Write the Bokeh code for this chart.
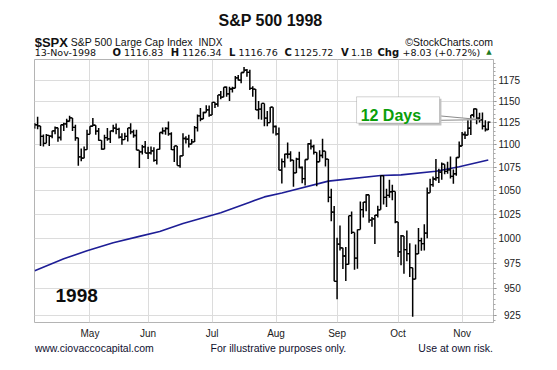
from bokeh.plotting import figure
from bokeh.layouts import column
from bokeh.models import Range1d, FixedTicker, Label, BoxAnnotation, ColumnDataSource
from bokeh.embed import file_html
from bokeh.resources import INLINE

# ---------------- data ----------------
dates = (
    ["1998-04-%s" % d for d in ["03","06","07","08","09","13","14","15","16","17","20","21","22","23","24","27","28","29","30"]]
    + ["1998-05-%s" % d for d in ["01","04","05","06","07","08","11","12","13","14","15","18","19","20","21","22","26","27","28","29"]]
    + ["1998-06-%s" % d for d in ["01","02","03","04","05","08","09","10","11","12","15","16","17","18","19","22","23","24","25","26","29","30"]]
    + ["1998-07-%s" % d for d in ["01","02","06","07","08","09","10","13","14","15","16","17","20","21","22","23","24","27","28","29","30","31"]]
    + ["1998-08-%s" % d for d in ["03","04","05","06","07","10","11","12","13","14","17","18","19","20","21","24","25","26","27","28","31"]]
    + ["1998-09-%s" % d for d in ["01","02","03","04","08","09","10","11","14","15","16","17","18","21","22","23","24","25","28","29","30"]]
    + ["1998-10-%s" % d for d in ["01","02","05","06","07","08","09","12","13","14","15","16","19","20","21","22","23","26","27","28","29","30"]]
    + ["1998-11-%s" % d for d in ["02","03","04","05","06","09","10","11","12","13"]]
)

opens = [
    1120.0, 1122.7, 1121.4, 1109.6, 1101.7, 1110.7, 1109.7, 1115.8, 1119.3, 1108.2, 1122.7, 1123.7, 1126.7, 1130.5, 1119.6, 1107.9, 1086.5, 1085.1, 1094.6,
    1111.8, 1121.0, 1122.1, 1115.5, 1104.9, 1095.1, 1108.1, 1106.6, 1115.8, 1118.9, 1117.4, 1108.7, 1105.8, 1109.5, 1119.1, 1114.6, 1110.5, 1094.0, 1092.2, 1097.6,
    1090.8, 1091.0, 1093.2, 1082.7, 1094.8, 1113.9, 1115.7, 1118.4, 1112.3, 1094.6, 1098.8, 1077.0, 1087.6, 1107.1, 1106.4, 1100.7, 1103.2, 1119.5, 1132.9, 1129.3, 1136.8, 1139.8,
    1133.8, 1148.6, 1146.4, 1157.3, 1154.7, 1166.4, 1158.6, 1164.3, 1165.2, 1177.6, 1174.8, 1184.0, 1186.8, 1184.1, 1165.1, 1164.1, 1139.8, 1140.8, 1147.3, 1130.2, 1125.2, 1143.0,
    1120.7, 1112.4, 1072.1, 1081.4, 1089.6, 1089.5, 1083.1, 1069.0, 1084.2, 1074.9, 1062.8, 1083.7, 1101.2, 1098.1, 1091.6, 1081.2, 1088.1, 1092.9, 1084.2, 1042.6, 1027.1,
    957.3, 994.3, 990.5, 982.3, 973.9, 1023.5, 1006.2, 980.2, 1009.1, 1029.7, 1037.7, 1045.5, 1018.9, 1020.1, 1023.9, 1029.6, 1066.1, 1042.7, 1044.8, 1048.7, 1049.0,
    1017.0, 986.4, 1002.6, 988.6, 984.6, 970.7, 959.4, 984.4, 997.7, 994.8, 1005.5, 1047.5, 1056.4, 1062.4, 1063.9, 1069.9, 1078.5, 1070.7, 1072.3, 1065.3, 1068.1, 1085.9,
    1098.7, 1111.6, 1110.8, 1118.7, 1133.9, 1141.0, 1130.2, 1128.3, 1121.0, 1116.8,
]
highs = [
    1124.7, 1131.9, 1121.4, 1111.5, 1112.2, 1110.9, 1115.8, 1120.7, 1119.3, 1122.7, 1124.9, 1129.6, 1132.9, 1130.5, 1122.8, 1107.9, 1095.9, 1098.0, 1116.9,
    1121.0, 1130.5, 1122.1, 1119.1, 1105.1, 1111.4, 1119.1, 1116.0, 1122.6, 1124.0, 1119.2, 1113.0, 1113.6, 1119.1, 1124.3, 1116.9, 1116.9, 1094.0, 1099.7, 1104.2,
    1097.9, 1098.0, 1097.4, 1095.0, 1113.9, 1119.7, 1119.9, 1126.3, 1114.2, 1098.8, 1098.8, 1088.0, 1112.9, 1109.6, 1111.2, 1106.4, 1121.2, 1134.4, 1142.0, 1137.6, 1145.2, 1145.0,
    1148.6, 1148.6, 1157.3, 1161.9, 1166.4, 1167.4, 1167.0, 1166.9, 1179.7, 1181.1, 1184.0, 1190.6, 1188.4, 1187.4, 1167.7, 1164.3, 1150.3, 1147.3, 1147.3, 1138.6, 1143.1, 1143.0,
    1121.7, 1119.7, 1084.8, 1090.0, 1102.5, 1092.8, 1083.1, 1085.5, 1092.4, 1075.9, 1083.7, 1101.7, 1106.0, 1100.0, 1091.6, 1093.8, 1106.7, 1092.9, 1084.2, 1051.8, 1033.5,
    1000.7, 1013.2, 990.5, 991.4, 1023.5, 1027.7, 1006.2, 1009.1, 1038.4, 1037.7, 1046.0, 1045.5, 1022.0, 1024.1, 1033.9, 1066.1, 1066.1, 1051.9, 1061.5, 1056.3, 1049.0,
    1017.0, 1003.5, 1002.6, 1008.1, 995.2, 970.7, 993.8, 1010.7, 1000.8, 1014.6, 1053.1, 1062.6, 1065.2, 1084.1, 1073.4, 1080.5, 1078.5, 1081.2, 1087.1, 1072.8, 1086.1, 1103.8,
    1114.4, 1115.0, 1127.8, 1133.9, 1141.3, 1141.0, 1136.5, 1136.9, 1127.8, 1126.3,
]
lows = [
    1118.2, 1117.5, 1098.7, 1098.0, 1101.7, 1098.8, 1107.3, 1111.8, 1103.4, 1104.9, 1115.6, 1119.4, 1126.3, 1115.5, 1104.6, 1076.7, 1081.8, 1085.1, 1094.6,
    1111.8, 1121.0, 1111.2, 1104.6, 1094.4, 1095.1, 1104.6, 1101.9, 1114.3, 1111.8, 1107.1, 1100.2, 1105.8, 1103.7, 1111.9, 1107.8, 1094.0, 1074.4, 1089.1, 1090.8,
    1084.2, 1089.1, 1081.1, 1078.1, 1094.8, 1112.0, 1111.3, 1110.3, 1094.3, 1080.8, 1077.0, 1074.7, 1087.6, 1101.5, 1097.1, 1100.7, 1103.2, 1115.1, 1126.7, 1129.3, 1136.8, 1132.0,
    1133.8, 1142.1, 1143.6, 1152.2, 1154.7, 1155.2, 1150.2, 1160.1, 1165.2, 1174.4, 1171.0, 1184.0, 1178.8, 1163.1, 1155.2, 1139.8, 1129.1, 1128.4, 1121.0, 1121.0, 1125.2, 1112.8,
    1110.4, 1071.8, 1057.4, 1074.9, 1084.7, 1081.1, 1054.0, 1069.0, 1074.0, 1057.8, 1055.5, 1083.7, 1094.9, 1089.3, 1054.6, 1081.2, 1085.1, 1075.9, 1037.6, 1017.7, 957.3,
    940.0, 987.9, 969.3, 957.7, 973.9, 1004.6, 968.6, 969.7, 1009.1, 1021.6, 1028.0, 1016.0, 1011.9, 994.3, 1021.6, 1029.6, 1035.2, 1032.5, 1042.2, 1039.6, 1015.7,
    981.3, 973.0, 964.7, 977.1, 961.4, 923.3, 959.4, 984.4, 987.6, 987.8, 1000.1, 1047.5, 1054.0, 1060.6, 1058.1, 1061.7, 1067.4, 1068.2, 1063.0, 1057.3, 1065.9, 1085.9,
    1098.7, 1106.4, 1110.8, 1111.1, 1131.1, 1123.2, 1125.2, 1117.4, 1114.9, 1116.8,
]
closes = [
    1122.7, 1121.4, 1109.6, 1101.7, 1110.7, 1109.7, 1115.8, 1119.3, 1108.2, 1122.7, 1123.7, 1126.7, 1130.5, 1119.6, 1107.9, 1086.5, 1085.1, 1094.6, 1111.8,
    1121.0, 1122.1, 1115.5, 1104.9, 1095.1, 1108.1, 1106.6, 1115.8, 1118.9, 1117.4, 1108.7, 1105.8, 1109.5, 1119.1, 1114.6, 1110.5, 1094.0, 1092.2, 1097.6, 1090.8,
    1091.0, 1093.2, 1082.7, 1094.8, 1113.9, 1115.7, 1118.4, 1112.3, 1094.6, 1098.8, 1077.0, 1087.6, 1107.1, 1106.4, 1100.7, 1103.2, 1119.5, 1132.9, 1129.3, 1136.8, 1139.8, 1133.8,
    1148.6, 1146.4, 1157.3, 1154.7, 1166.4, 1158.6, 1164.3, 1165.2, 1177.6, 1174.8, 1184.0, 1186.8, 1184.1, 1165.1, 1164.1, 1139.8, 1140.8, 1147.3, 1130.2, 1125.2, 1143.0, 1120.7,
    1112.4, 1072.1, 1081.4, 1089.6, 1089.5, 1083.1, 1069.0, 1084.2, 1074.9, 1062.8, 1083.7, 1101.2, 1098.1, 1091.6, 1081.2, 1088.1, 1092.9, 1084.2, 1042.6, 1027.1, 957.3,
    994.3, 990.5, 982.3, 973.9, 1023.5, 1006.2, 980.2, 1009.1, 1029.7, 1037.7, 1045.5, 1018.9, 1020.1, 1023.9, 1029.6, 1066.1, 1042.7, 1044.8, 1048.7, 1049.0, 1017.0,
    986.4, 1002.6, 988.6, 984.6, 970.7, 959.4, 984.4, 997.7, 994.8, 1005.5, 1047.5, 1056.4, 1062.4, 1063.9, 1069.9, 1078.5, 1070.7, 1072.3, 1065.3, 1068.1, 1085.9, 1098.7,
    1111.6, 1110.8, 1118.7, 1133.9, 1141.0, 1130.2, 1128.3, 1121.0, 1117.7, 1125.7,
]

# 200-day moving average, read at bar positions
ma_idx = [0, 10, 18, 27, 36, 43, 51, 64, 74, 79, 85, 101, 119, 126, 138, 146, 156]
ma_val = [967.7, 979.5, 987.5, 995.6, 1002.1, 1007.0, 1015.3, 1026.4, 1037.6, 1043.2, 1047.3,
          1060.1, 1066.1, 1066.9, 1070.8, 1075.7, 1083.1]

month_names = ["May", "Jun", "Jul", "Aug", "Sep", "Oct", "Nov"]
month_numbers = [5, 6, 7, 8, 9, 10, 11]
y_ticks = [925, 950, 975, 1000, 1025, 1050, 1075, 1100, 1125, 1150, 1175]
y_tick_labels = ["\u2007925", "\u2007950", "\u2007975", "1000", "1025", "1050", "1075", "1100", "1125", "1150", "1175"]
y_minor = list(range(920, 1200, 5))

title_text = "S&P 500 1998"
symbol_text = "$SPX"
name_text = "S&P 500 Large Cap Index"
exch_text = "INDX"
brand_text = "\u00a9StockCharts.com"
date_text = "13-Nov-1998"
quote_parts = [("O", True, 112.0), ("1116.83", False, 123.5), ("H", True, 170.3), ("1126.34", False, 181.7),
               ("L", True, 228.5), ("1116.76", False, 237.9), ("C", True, 284.0), ("1125.72", False, 293.5),
               ("V", True, 340.5), ("1.1B", False, 350.5), ("Chg", True, 377.0), ("+8.03 (+0.72%)", False, 402.0)]
year_text = "1998"
callout_text = "12 Days"
footer = [("www.ciovaccocapital.com", 34.2, "left"), ("For illustrative purposes only.", 210.0, "left"),
          ("Use at own risk.", 492.5, "right")]

# ---------------- sizes ----------------
W = 541
HEAD_H = 58
MAIN_H = 283
FOOT_H = 13
BORDER_L, BORDER_R = 34, 48
FRAME_L, FRAME_R = BORDER_L, W - BORDER_R   # frames of stacked figures line up
FONT = "Liberation Sans"


def text_panel(height):
    f = figure(width=W, height=height, x_range=Range1d(FRAME_L, FRAME_R), y_range=Range1d(height, 0),
               x_axis_location=None, y_axis_location=None, output_backend="svg",
               toolbar_location=None, min_border_left=BORDER_L, min_border_right=BORDER_R,
               min_border_top=0, min_border_bottom=0)
    f.outline_line_color = None
    f.grid.visible = False
    f.background_fill_color = "white"
    f.border_fill_color = "white"
    return f


def put(fig, text, x, y, size, bold=False, color="#111111", align="left", font=FONT,
        baseline="middle", bg=None):
    lab = Label(x=x, y=y, text=text, text_font=font, text_font_size="%gpx" % size,
                text_font_style="bold" if bold else "normal", text_color=color,
                text_align=align, text_baseline=baseline)
    if bg is not None:
        lab.background_fill_color = bg
    fig.add_layout(lab)


# ---------------- header ----------------
head = text_panel(HEAD_H)
put(head, title_text, 270, 19.5, 16, bold=True, align="center")
put(head, symbol_text, 34.2, 41.5, 13, bold=True)
put(head, name_text, 70.3, 41.5, 10.5)
put(head, exch_text, 198, 41.5, 10)
put(head, brand_text, 492.5, 41.5, 10.5, align="right")
put(head, date_text, 34.2, 51.5, 9.5, font="DejaVu Sans")
for txt, bold, px in quote_parts:
    put(head, txt, px, 51.5, 10 if bold else 9.5, bold=bold, font="DejaVu Sans")
put(head, "\u25b2", 488.5, 51.5, 7, color="#1e7a1e", align="center", font="DejaVu Sans")

# ---------------- main chart ----------------
p = figure(width=W, height=MAIN_H, x_range=Range1d(-0.07, 157.8), y_range=Range1d(918.0, 1199.8),
           y_axis_type="log", y_axis_location="right", output_backend="svg", toolbar_location=None,
           min_border_left=BORDER_L, min_border_right=BORDER_R, min_border_top=1, min_border_bottom=17)
p.outline_line_color = "#b4b4b4"
p.outline_line_width = 1
p.background_fill_color = "white"
p.border_fill_color = "white"

idx = list(range(len(dates)))
month_first = [next(i for i, d in enumerate(dates) if int(d[5:7]) == m) for m in month_numbers]

xa = p.xaxis[0]
xa.ticker = FixedTicker(ticks=month_first, minor_ticks=[])
xa.major_label_overrides = {i: n for i, n in zip(month_first, month_names)}
xa.axis_line_color = None
xa.major_tick_line_color = None
xa.minor_tick_line_color = None
xa.major_tick_out = 0
xa.minor_tick_out = 0
xa.major_tick_in = 0
xa.minor_tick_in = 0
xa.major_label_standoff = 5
xa.major_label_text_font = FONT
xa.major_label_text_font_size = "10px"
xa.major_label_text_color = "#1a1a1a"

ya = p.yaxis[0]
ya.ticker = FixedTicker(ticks=y_ticks, minor_ticks=y_minor)
ya.major_label_overrides = {t: s for t, s in zip(y_ticks, y_tick_labels)}
ya.axis_line_color = "#b4b4b4"
ya.major_tick_out = 3
ya.major_tick_in = 0
ya.major_tick_line_color = "#808080"
ya.minor_tick_out = 2
ya.minor_tick_in = 0
ya.minor_tick_line_color = "#a8a8a8"
ya.major_label_standoff = 2
ya.major_label_text_font = FONT
ya.major_label_text_font_size = "10px"
ya.major_label_text_color = "#1a1a1a"

p.xgrid.grid_line_color = "#dcdcdc"
p.ygrid.grid_line_color = "#dcdcdc"

# moving average
p.line(ma_idx, ma_val, line_color="#1e1e96", line_width=1.6)

# OHLC bars
src = ColumnDataSource(dict(x=idx, xl=[i - 0.75 for i in idx], xr=[i + 0.75 for i in idx],
                            o=opens, h=highs, l=lows, c=closes))
p.segment(x0="x", y0="l", x1="x", y1="h", source=src, line_color="black", line_width=1.5)
p.segment(x0="xl", y0="o", x1="x", y1="o", source=src, line_color="black", line_width=1.3)
p.segment(x0="x", y0="c", x1="xr", y1="c", source=src, line_color="black", line_width=1.3)

# callout "12 Days"
p.add_layout(BoxAnnotation(left=111.4, right=139.9, top=1152.9, bottom=1121.9,
                           fill_color="#c4c4c4", fill_alpha=1.0, line_color=None))
p.add_layout(BoxAnnotation(left=110.7, right=139.25, top=1155.1, bottom=1124.6,
                           fill_color="white", fill_alpha=1.0, line_color="#6e6e6e", line_width=1))
p.patch([139.25, 153.4, 139.25], [1132.9, 1128.5, 1127.8], fill_color="white",
        line_color="#8a8a8a", line_width=1)
put(p, callout_text, 112.1, 1133.8, 16, bold=True, color="#0a9e0a", baseline="alphabetic")
put(p, year_text, 7.15, 943.2, 19, bold=True, color="#0d0d0d", bg="white")

# ---------------- footer ----------------
foot = text_panel(FOOT_H)
for txt, px, al in footer:
    put(foot, txt, px, 6.5, 10.5, color="#101030", align=al)

layout = column(head, p, foot, spacing=0)
open("out.html", "w").write(file_html(layout, INLINE))
